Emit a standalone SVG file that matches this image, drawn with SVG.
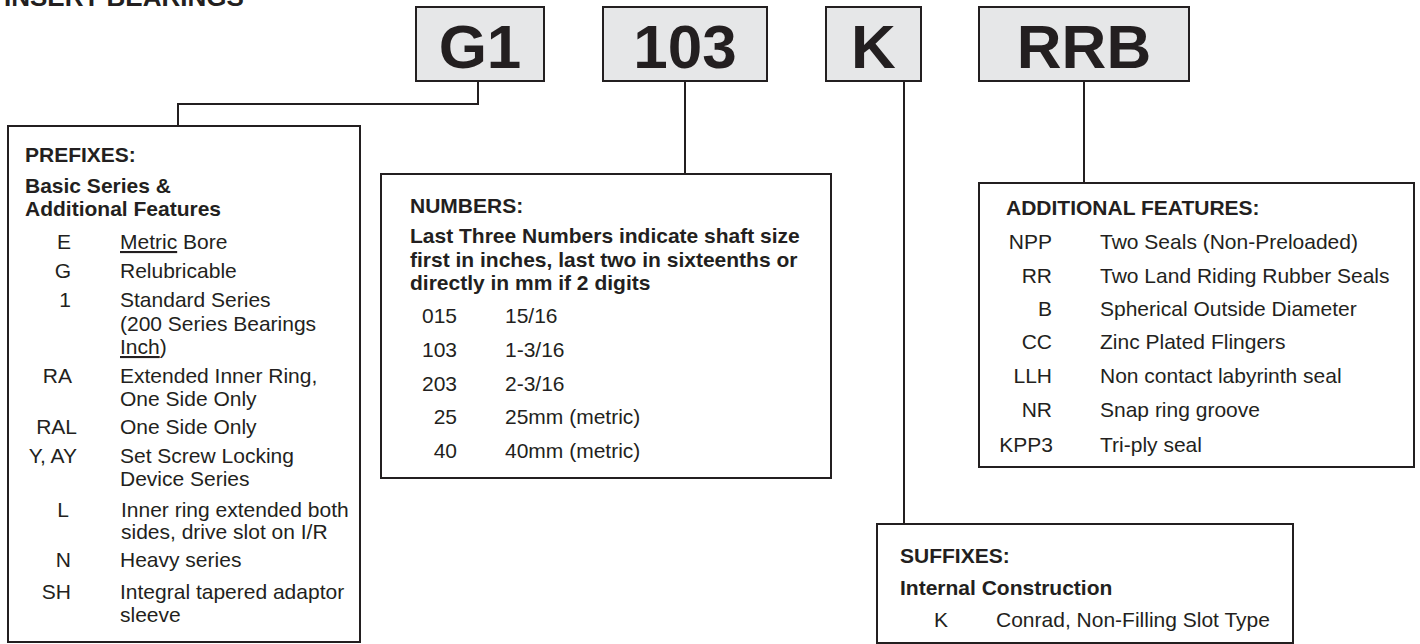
<svg xmlns="http://www.w3.org/2000/svg" width="1420" height="644" viewBox="0 0 1420 644">
<style>
text{font-family:"Liberation Sans",Arial,sans-serif;fill:#231f20;font-size:21px}
.b{font-weight:bold}
.big{font-weight:bold;font-size:62px;text-anchor:middle}
.code{text-anchor:end}
.box{fill:#ffffff;stroke:#231f20;stroke-width:2}
.key{fill:#e6e7e8;stroke:#231f20;stroke-width:2}
.ln{fill:none;stroke:#231f20;stroke-width:2}
.u{text-decoration:underline}
</style>
<rect width="1420" height="644" fill="#ffffff"/>
<text x="4" y="6" class="b" style="font-size:26px">INSERT BEARINGS</text>
<g id="connectors">
<polyline class="ln" points="478,81 478,104 178,104 178,126"/>
<line class="ln" x1="685" y1="81" x2="685" y2="174"/>
<line class="ln" x1="904" y1="81" x2="904" y2="524"/>
<line class="ln" x1="1084" y1="81" x2="1084" y2="183"/>
</g>
<g id="key-g1"><rect class="key" x="416" y="7" width="128" height="74"/><text x="480" y="68" class="big">G1</text></g>
<g id="key-103"><rect class="key" x="603" y="7" width="164" height="74"/><text x="685" y="68" class="big">103</text></g>
<g id="key-k"><rect class="key" x="826" y="7" width="95" height="74"/><text x="873.5" y="68" class="big">K</text></g>
<g id="key-rrb"><rect class="key" x="979" y="7" width="210" height="74"/><text x="1084" y="68" class="big">RRB</text></g>
<g id="prefixes">
<rect class="box" x="8" y="126" width="352" height="516"/>
<text x="25" y="162" class="b">PREFIXES:</text>
<text x="25" y="193" class="b">Basic Series &amp;</text>
<text x="25" y="216" class="b">Additional Features</text>
<text x="71" y="249" class="code">E</text><text x="120" y="249"><tspan class="u">Metric</tspan> Bore</text>
<text x="71" y="278" class="code">G</text><text x="120" y="278">Relubricable</text>
<text x="71" y="307" class="code">1</text><text x="120" y="307">Standard Series</text>
<text x="120" y="331">(200 Series Bearings</text>
<text x="120" y="354"><tspan class="u">Inch</tspan>)</text>
<text x="72" y="383" class="code">RA</text><text x="120" y="383">Extended Inner Ring,</text>
<text x="120" y="406">One Side Only</text>
<text x="77" y="434" class="code">RAL</text><text x="120" y="434">One Side Only</text>
<text x="77" y="463" class="code">Y, AY</text><text x="120" y="463">Set Screw Locking</text>
<text x="120" y="486">Device Series</text>
<text x="69" y="517" class="code">L</text><text x="121" y="517">Inner ring extended both</text>
<text x="121" y="539">sides, drive slot on I/R</text>
<text x="71" y="567" class="code">N</text><text x="120" y="567">Heavy series</text>
<text x="71" y="599" class="code">SH</text><text x="120" y="599">Integral tapered adaptor</text>
<text x="120" y="622">sleeve</text>
</g>
<g id="numbers">
<rect class="box" x="381" y="174" width="450" height="304"/>
<text x="410" y="213" class="b">NUMBERS:</text>
<text x="410" y="243" class="b">Last Three Numbers indicate shaft size</text>
<text x="410" y="267" class="b">first in inches, last two in sixteenths or</text>
<text x="410" y="290" class="b">directly in mm if 2 digits</text>
<text x="457" y="323" class="code">015</text><text x="505" y="323">15/16</text>
<text x="457" y="357" class="code">103</text><text x="505" y="357">1-3/16</text>
<text x="457" y="391" class="code">203</text><text x="505" y="391">2-3/16</text>
<text x="457" y="424" class="code">25</text><text x="505" y="424">25mm (metric)</text>
<text x="457" y="458" class="code">40</text><text x="505" y="458">40mm (metric)</text>
</g>
<g id="additional-features">
<rect class="box" x="979" y="183" width="435" height="284"/>
<text x="1006" y="215" class="b">ADDITIONAL FEATURES:</text>
<text x="1052" y="249" class="code">NPP</text><text x="1100" y="249">Two Seals (Non-Preloaded)</text>
<text x="1052" y="283" class="code">RR</text><text x="1100" y="283">Two Land Riding Rubber Seals</text>
<text x="1052" y="316" class="code">B</text><text x="1100" y="316">Spherical Outside Diameter</text>
<text x="1052" y="349" class="code">CC</text><text x="1100" y="349">Zinc Plated Flingers</text>
<text x="1052" y="383" class="code">LLH</text><text x="1100" y="383">Non contact labyrinth seal</text>
<text x="1052" y="417" class="code">NR</text><text x="1100" y="417">Snap ring groove</text>
<text x="1053" y="452" class="code">KPP3</text><text x="1100" y="452">Tri-ply seal</text>
</g>
<g id="suffixes">
<rect class="box" x="877" y="524" width="416" height="119"/>
<text x="900" y="563" class="b">SUFFIXES:</text>
<text x="900" y="595" class="b">Internal Construction</text>
<text x="934" y="627">K</text><text x="996" y="627">Conrad, Non-Filling Slot Type</text>
</g>
</svg>
